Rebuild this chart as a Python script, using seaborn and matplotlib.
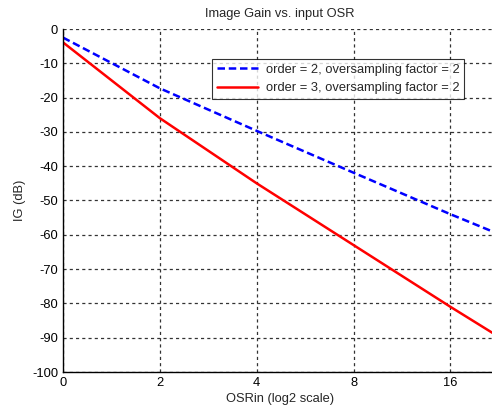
import pandas as pd
import matplotlib.pyplot as plt
import seaborn as sns

# posições em log2(OSR) e rótulos mostrados no eixo
osr_pos = [0, 1, 2, 3, 4, 4.44]
tick_pos = [0, 1, 2, 3, 4]
tick_labels = ['0', '2', '4', '8', '16']

ig_ordem2 = [-2.5, -17.3, -29.7, -41.9, -54.0, -59.1]
ig_ordem3 = [-3.9, -26.0, -45.0, -63.0, -81.0, -88.7]

serie2 = 'order = 2, oversampling factor = 2'
serie3 = 'order = 3, oversampling factor = 2'

df = pd.DataFrame({
    'x': osr_pos * 2,
    'IG': ig_ordem2 + ig_ordem3,
    'serie': [serie2] * len(osr_pos) + [serie3] * len(osr_pos),
})

sns.set_style('white')
plt.rcParams['font.family'] = ['Liberation Sans', 'DejaVu Sans']
plt.rcParams['font.size'] = 9
plt.rcParams['axes.unicode_minus'] = False

fig = plt.figure(figsize=(4.92, 4.11), dpi=100)
ax = fig.add_axes([63 / 492, 1 - 372 / 411, (492 - 63) / 492 + 0.01, 343 / 411])

sns.lineplot(data=df, x='x', y='IG', hue='serie', style='serie',
             palette={serie2: '#0000ff', serie3: '#ff0000'},
             dashes={serie2: (3, 1.5), serie3: ''},
             linewidth=1.8, ax=ax, sort=False)

ax.set_xlim(0, 4.48)
ax.set_ylim(-100, 0)
ax.set_xticks(tick_pos)
ax.set_xticklabels(tick_labels)
ax.set_yticks(range(-100, 1, 10))
ax.grid(True, color='#333333', linestyle=(0, (2.5, 2.5)), linewidth=0.9)
ax.set_axisbelow(True)
for s in ['top', 'right']:
    ax.spines[s].set_visible(False)
for s in ['left', 'bottom']:
    ax.spines[s].set_color('black')
    ax.spines[s].set_linewidth(1)
ax.tick_params(axis='both', direction='in', length=4, colors='black', labelsize=9.3)

ax.set_title('Image Gain vs. input OSR', fontsize=9.3, pad=9)
ax.set_xlabel('OSRin (log2 scale)', fontsize=9.3, labelpad=3)
ax.set_ylabel('IG (dB)', fontsize=9.3, labelpad=4)

leg = ax.legend(loc='upper left', bbox_to_anchor=(0.343, 0.9125), frameon=True,
                fancybox=False, edgecolor='black', fontsize=9.3, handlelength=3.2,
                borderpad=0.38, labelspacing=0.5, handletextpad=0.6,
                borderaxespad=0)
leg.get_frame().set_linewidth(0.8)

plt.savefig('out.png', dpi=100)
